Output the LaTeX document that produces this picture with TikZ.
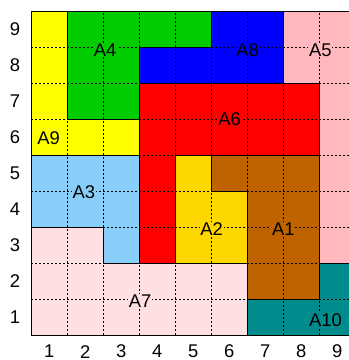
\documentclass[tikz,border=0pt]{standalone}
\usepackage{fontspec}
\setmainfont{Liberation Sans}
\usetikzlibrary{positioning}
\definecolor{cYellow}{RGB}{255,255,0}
\definecolor{cGreen}{RGB}{0,204,0}
\definecolor{cBlue}{RGB}{0,0,255}
\definecolor{cPink}{RGB}{255,184,190}
\definecolor{cRed}{RGB}{255,0,0}
\definecolor{cSky}{RGB}{135,206,250}
\definecolor{cGold}{RGB}{255,215,0}
\definecolor{cBrown}{RGB}{191,98,0}
\definecolor{cRose}{RGB}{255,224,226}
\definecolor{cTeal}{RGB}{0,140,140}
\begin{document}
\begin{tikzpicture}[
          x=27pt, y=27pt,
          region/.style = {draw=black, line width=0.75pt, line join=miter},
          gridline/.style = {black, line width=0.5pt, dash pattern=on 1.5pt off 1.5pt},
          lbl/.style = {fill=#1, inner sep=0.6pt, font=\fontsize{13.8}{16}\selectfont},
          tick/.style = {inner sep=0pt, font=\fontsize{13.8}{16}\selectfont}]
        \useasboundingbox (-0.369,-0.194) rectangle (9.325,9.806);
        \clip (-0.369,-0.194) rectangle (9.325,9.806);
        % coloured regions
        \fill[cYellow] (0.5,5.5) -- (3.5,5.5) -- (3.5,6.5) -- (1.5,6.5) -- (1.5,9.5) -- (0.5,9.5) -- cycle;
        \fill[cGreen]  (1.5,6.5) -- (3.5,6.5) -- (3.5,8.5) -- (5.5,8.5) -- (5.5,9.5) -- (1.5,9.5) -- cycle;
        \fill[cBlue]   (3.5,7.5) -- (7.5,7.5) -- (7.5,9.5) -- (5.5,9.5) -- (5.5,8.5) -- (3.5,8.5) -- cycle;
        \fill[cPink]   (8.5,2.5) -- (9.5,2.5) -- (9.5,9.5) -- (7.5,9.5) -- (7.5,7.5) -- (8.5,7.5) -- cycle;
        \fill[cRed]    (3.5,2.5) -- (4.5,2.5) -- (4.5,5.5) -- (8.5,5.5) -- (8.5,7.5) -- (3.5,7.5) -- cycle;
        \fill[cSky]    (0.5,3.5) -- (2.5,3.5) -- (2.5,2.5) -- (3.5,2.5) -- (3.5,5.5) -- (0.5,5.5) -- cycle;
        \fill[cGold]   (4.5,2.5) -- (6.5,2.5) -- (6.5,4.5) -- (5.5,4.5) -- (5.5,5.5) -- (4.5,5.5) -- cycle;
        \fill[cBrown]  (6.5,1.5) -- (8.5,1.5) -- (8.5,5.5) -- (5.5,5.5) -- (5.5,4.5) -- (6.5,4.5) -- cycle;
        \fill[cRose]   (0.5,0.5) -- (6.5,0.5) -- (6.5,2.5) -- (2.5,2.5) -- (2.5,3.5) -- (0.5,3.5) -- cycle;
        \fill[cTeal]   (6.5,0.5) -- (9.5,0.5) -- (9.5,2.5) -- (8.5,2.5) -- (8.5,1.5) -- (6.5,1.5) -- cycle;
        % dotted grid on the cell borders
        \foreach \k in {1.5,2.5,...,8.5} {
          \draw[gridline] (\k,0.5) -- (\k,9.5);
          \draw[gridline] (0.5,\k) -- (9.5,\k);
        }
        % region outlines
        \draw[region] (0.5,5.5) -- (3.5,5.5) -- (3.5,6.5) -- (1.5,6.5) -- (1.5,9.5) -- (0.5,9.5) -- cycle;
        \draw[region] (1.5,6.5) -- (3.5,6.5) -- (3.5,8.5) -- (5.5,8.5) -- (5.5,9.5) -- (1.5,9.5) -- cycle;
        \draw[region] (3.5,7.5) -- (7.5,7.5) -- (7.5,9.5) -- (5.5,9.5) -- (5.5,8.5) -- (3.5,8.5) -- cycle;
        \draw[region] (8.5,2.5) -- (9.5,2.5) -- (9.5,9.5) -- (7.5,9.5) -- (7.5,7.5) -- (8.5,7.5) -- cycle;
        \draw[region] (3.5,2.5) -- (4.5,2.5) -- (4.5,5.5) -- (8.5,5.5) -- (8.5,7.5) -- (3.5,7.5) -- cycle;
        \draw[region] (0.5,3.5) -- (2.5,3.5) -- (2.5,2.5) -- (3.5,2.5) -- (3.5,5.5) -- (0.5,5.5) -- cycle;
        \draw[region] (4.5,2.5) -- (6.5,2.5) -- (6.5,4.5) -- (5.5,4.5) -- (5.5,5.5) -- (4.5,5.5) -- cycle;
        \draw[region] (6.5,1.5) -- (8.5,1.5) -- (8.5,5.5) -- (5.5,5.5) -- (5.5,4.5) -- (6.5,4.5) -- cycle;
        \draw[region] (0.5,0.5) -- (6.5,0.5) -- (6.5,2.5) -- (2.5,2.5) -- (2.5,3.5) -- (0.5,3.5) -- cycle;
        \draw[region] (6.5,0.5) -- (9.5,0.5) -- (9.5,2.5) -- (8.5,2.5) -- (8.5,1.5) -- (6.5,1.5) -- cycle;
        \draw[region] (0.5,0.5) rectangle (9.5,9.5);
        % region labels
        \node[lbl=cBrown]  (a1)  at (7.50,3.44) {A1};
        \node[lbl=cGold]   (a2)  at (5.51,3.44) {A2};
        \node[lbl=cSky]    (a3)  at (1.96,4.48) {A3};
        \node[lbl=cGreen]  (a4)  at (2.55,8.42) {A4};
        \node[lbl=cPink]   (a5)  at (8.53,8.42) {A5};
        \node[lbl=cRed]    (a6)  at (6.01,6.49) {A6};
        \node[lbl=cRose]   (a7)  at (3.52,1.45) {A7};
        \node[lbl=cBlue]   (a8)  at (6.51,8.42) {A8};
        \node[lbl=cYellow] (a9)  at (0.98,5.96) {A9};
        \node[lbl=cTeal]   (a10) at (8.67,0.92) {A10};
        % axis numbers
        \foreach \k in {1,...,9} {
          \node[tick] (xt\k) at (\k,0.04) {\k};
          \node[tick] (yt\k) at (0.05,\k) {\k};
        }
      \end{tikzpicture}
\end{document}
